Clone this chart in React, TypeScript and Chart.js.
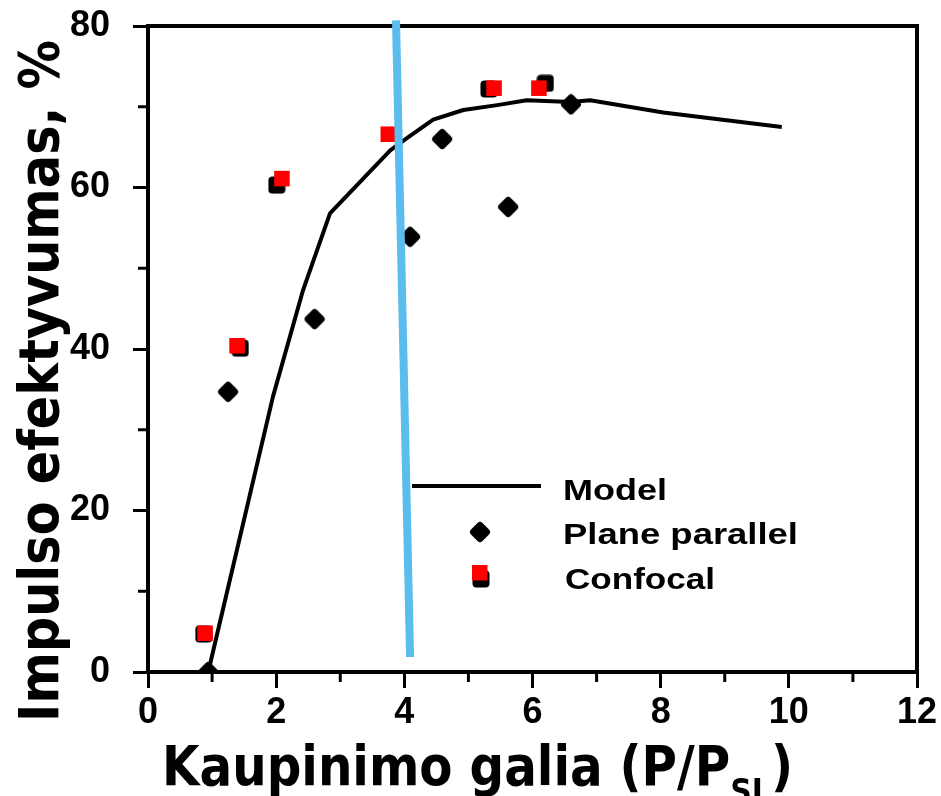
import React, { useEffect, useRef } from 'react';
import { Chart, registerables } from 'chart.js';

Chart.register(...registerables);

// ---------- data ----------
const modelX = [0.94, 1.95, 2.42, 2.84, 3.78, 4.04, 4.45, 4.92, 5.45, 5.91, 6.59, 6.9, 8.04, 9.89];
const modelY = [0, 34.1, 47.3, 56.8, 64.6, 66.1, 68.4, 69.6, 70.2, 70.8, 70.6, 70.8, 69.3, 67.5];

const planeX = [0.94, 1.25, 2.6, 4.09, 4.59, 5.62, 6.6];
const planeY = [0, 34.7, 43.7, 53.9, 66.0, 57.6, 70.3];

const confocalRedX = [0.89, 1.39, 2.09, 3.75, 5.4, 6.1];
const confocalRedY = [4.8, 40.4, 61.1, 66.6, 72.3, 72.3];

const confocalBlackX = [0.87, 1.44, 2.01, 5.32, 6.2];
const confocalBlackY = [4.7, 40.1, 60.3, 72.2, 72.9];

const blueX = [3.87, 4.09];
const blueY = [80.7, 1.86];

const xTickValues = [0, 2, 4, 6, 8, 10, 12];
const xMinorTicks = [1, 3, 5, 7, 9, 11];
const yTickValues = [0, 20, 40, 60, 80];
const yMinorTicks = [10, 30, 50, 70];

const xTitleMain = 'Kaupinimo galia (P/P';
const xTitleSub = 'SL';
const xTitleEnd = ')';
const yTitle = 'Impulso efektyvumas, %';
const legendLabels = ['Model', 'Plane parallel', 'Confocal'];

const zip = (xs: number[], ys: number[]) => xs.map((x, i) => ({ x, y: ys[i] }));

function makeDiamond(): HTMLCanvasElement {
  const c = document.createElement('canvas');
  c.width = 22;
  c.height = 22;
  const g = c.getContext('2d')!;
  g.fillStyle = '#000';
  g.strokeStyle = '#000';
  g.lineWidth = 7;
  g.lineJoin = 'round';
  g.beginPath();
  g.moveTo(11, 4.5);
  g.lineTo(17.5, 11);
  g.lineTo(11, 17.5);
  g.lineTo(4.5, 11);
  g.closePath();
  g.fill();
  g.stroke();
  return c;
}

function makeRoundSquare(): HTMLCanvasElement {
  const c = document.createElement('canvas');
  c.width = 18;
  c.height = 18;
  const g = c.getContext('2d')!;
  g.fillStyle = '#000';
  g.beginPath();
  (g as any).roundRect(0.5, 0.5, 17, 17, 4);
  g.fill();
  return c;
}

export default function App() {
  const ref = useRef<HTMLCanvasElement>(null);

  useEffect(() => {
    document.body.style.margin = '0';
    const diamond = makeDiamond();
    const roundSq = makeRoundSquare();

    const framePlugin = {
      id: 'frameMinor',
      beforeDatasetsDraw(chart: any) {
        const { ctx, chartArea } = chart;
        const xs = chart.scales.x;
        const ys = chart.scales.y;
        ctx.save();
        ctx.strokeStyle = '#000';
        ctx.lineWidth = 3;
        ctx.beginPath();
        xMinorTicks.forEach((v) => {
          const px = xs.getPixelForValue(v);
          ctx.moveTo(px, chartArea.bottom);
          ctx.lineTo(px, chartArea.bottom + 10);
        });
        yMinorTicks.forEach((v) => {
          const py = ys.getPixelForValue(v);
          ctx.moveTo(chartArea.left, py);
          ctx.lineTo(chartArea.left - 10, py);
        });
        ctx.stroke();
        ctx.lineWidth = 4;
        ctx.strokeRect(chartArea.left, chartArea.top, chartArea.right - chartArea.left, chartArea.bottom - chartArea.top);
        ctx.restore();
      },
    };

    const fitText = (ctx: CanvasRenderingContext2D, text: string, x: number, y: number, w: number) => {
      const m = ctx.measureText(text).width;
      ctx.save();
      ctx.translate(x, y);
      ctx.scale(w / m, 1);
      ctx.fillText(text, 0, 0);
      ctx.restore();
    };

    const textPlugin = {
      id: 'texts',
      afterDraw(chart: any) {
        const ctx: CanvasRenderingContext2D = chart.ctx;
        ctx.save();
        ctx.fillStyle = '#000';
        ctx.textAlign = 'left';
        ctx.textBaseline = 'alphabetic';

        // x title with subscript
        const big = 'bold 55px "DejaVu Sans"';
        const small = 'bold 34px "DejaVu Sans"';
        ctx.font = big;
        const w1 = ctx.measureText(xTitleMain).width;
        const w3 = ctx.measureText(xTitleEnd).width;
        ctx.font = small;
        const w2 = ctx.measureText(xTitleSub).width;
        const sx = 631 / (w1 + w2 + w3);
        ctx.save();
        ctx.translate(162, 785);
        ctx.scale(sx, 1);
        ctx.font = big;
        ctx.fillText(xTitleMain, 0, 0);
        ctx.font = small;
        ctx.fillText(xTitleSub, w1, 18);
        ctx.font = big;
        ctx.fillText(xTitleEnd, w1 + w2, 0);
        ctx.restore();

        // y title rotated
        ctx.font = big;
        const wy = ctx.measureText(yTitle).width;
        ctx.save();
        ctx.translate(58, 722);
        ctx.rotate(-Math.PI / 2);
        ctx.scale(682 / wy, 1);
        ctx.fillText(yTitle, 0, 0);
        ctx.restore();

        // legend
        ctx.strokeStyle = '#000';
        ctx.lineWidth = 4;
        ctx.beginPath();
        ctx.moveTo(412, 486);
        ctx.lineTo(541, 486);
        ctx.stroke();
        ctx.drawImage(diamond, 480 - 11, 532 - 11);
        ctx.drawImage(roundSq, 481 - 9, 579 - 9);
        ctx.fillStyle = '#ff0000';
        ctx.fillRect(472, 565, 15.5, 15.5);
        ctx.fillStyle = '#000';
        ctx.font = 'bold 29px "Liberation Sans"';
        fitText(ctx, legendLabels[0], 563, 500, 104);
        fitText(ctx, legendLabels[1], 563, 544, 235);
        fitText(ctx, legendLabels[2], 565, 589, 150);
        ctx.restore();
      },
    };

    const tickFont = { family: '"Liberation Sans", Arial, sans-serif', size: 36, weight: 'bold' as const };

    const chart = new Chart(ref.current!, {
      type: 'scatter',
      data: {
        datasets: [
          {
            label: 'blue',
            type: 'line',
            data: zip(blueX, blueY),
            borderColor: '#5bbcee',
            borderWidth: 8,
            pointRadius: 0,
            clip: false as any,
            order: 0,
          } as any,
          {
            label: 'Confocal',
            data: zip(confocalRedX, confocalRedY),
            pointStyle: 'rect',
            pointRadius: 11,
            pointBackgroundColor: '#ff0000',
            pointBorderWidth: 0,
            order: 1,
          },
          {
            label: 'Confocal (orig)',
            data: zip(confocalBlackX, confocalBlackY),
            pointStyle: roundSq as any,
            pointRadius: 9,
            order: 2,
          },
          {
            label: 'Plane parallel',
            data: zip(planeX, planeY),
            pointStyle: diamond as any,
            pointRadius: 10,
            order: 3,
          },
          {
            label: 'Model',
            type: 'line',
            data: zip(modelX, modelY),
            borderColor: '#000',
            borderWidth: 4,
            pointRadius: 0,
            tension: 0,
            borderJoinStyle: 'round',
            order: 4,
          } as any,
        ],
      },
      options: {
        responsive: false,
        animation: false,
        devicePixelRatio: 1,
        layout: { padding: { top: 26, right: 24, left: 0, bottom: 0 } },
        plugins: {
          legend: { display: false },
          tooltip: { enabled: false },
          title: { display: false },
        },
        scales: {
          x: {
            type: 'linear',
            min: 0,
            max: 12,
            afterBuildTicks: (s: any) => {
              s.ticks = xTickValues.map((v) => ({ value: v }));
            },
            afterFit: (s: any) => {
              s.height = 124;
              s.paddingLeft = 0;
              s.paddingRight = 0;
            },
            ticks: { font: tickFont, color: '#000', padding: 3, maxRotation: 0, autoSkip: false },
            grid: { drawOnChartArea: false, drawTicks: true, tickLength: 16, lineWidth: 3, color: '#000' },
            border: { display: false },
          },
          y: {
            type: 'linear',
            min: 0,
            max: 80,
            afterBuildTicks: (s: any) => {
              s.ticks = yTickValues.map((v) => ({ value: v }));
            },
            afterFit: (s: any) => {
              s.width = 148;
              s.paddingTop = 0;
              s.paddingBottom = 0;
            },
            ticks: { font: tickFont, color: '#000', padding: 23, autoSkip: false },
            grid: { drawOnChartArea: false, drawTicks: true, tickLength: 15, lineWidth: 3, color: '#000' },
            border: { display: false },
          },
        },
      },
      plugins: [framePlugin, textPlugin],
    });

    return () => chart.destroy();
  }, []);

  return (
    <div style={{ position: 'absolute', left: 0, top: 0, width: 941, height: 796, background: '#fff' }}>
      <canvas ref={ref} width={941} height={796} style={{ display: 'block', width: 941, height: 796 }} />
    </div>
  );
}
